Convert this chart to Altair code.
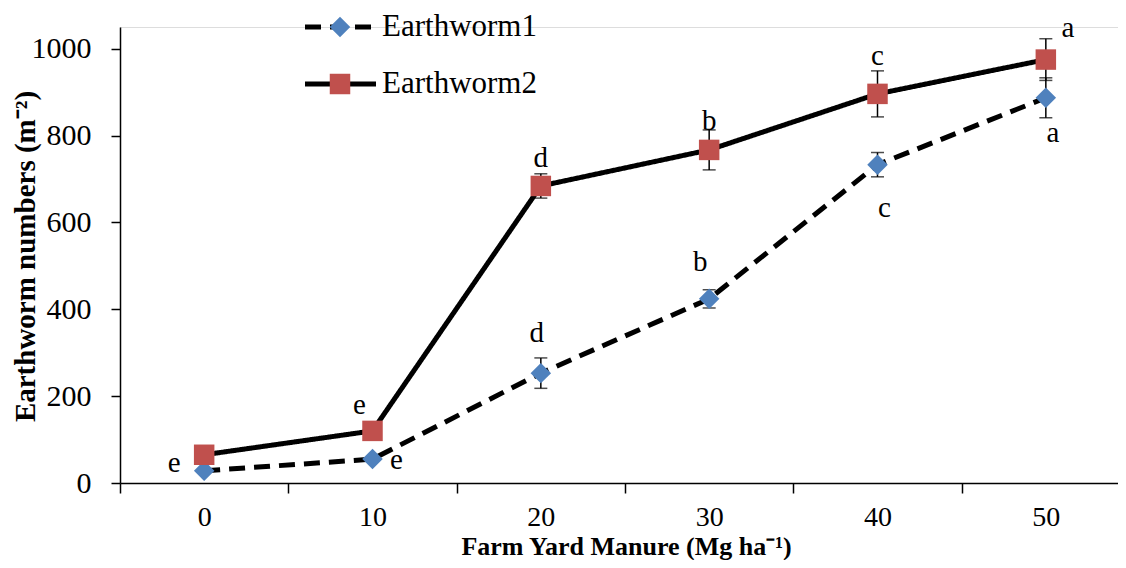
import altair as alt
import pandas as pd

fym = ["0", "10", "20", "30", "40", "50"]
series = ["Earthworm1", "Earthworm2"]
ew1 = [28, 55, 253, 424, 733, 887]
ew1_err = [5, 5, 35, 21, 28, 46]
ew2 = [65, 120, 684, 767, 896, 975]
ew2_err = [5, 5, 28, 46, 53, 48]

lab1_txt = ["e", "e", "d", "b", "c", "a"]
lab1_y = [46, 53, 345, 509, 633, 806]
lab1_dx = [-30, 24, -4, -9, 7, 7]
lab2_cat = ["10", "20", "30", "40", "50"]
lab2_txt = ["e", "d", "b", "c", "a"]
lab2_y = [180, 748, 833, 983, 1048]
lab2_dx = [-13, 0, 0, 0, 22]

FONT = "Liberation Serif"
HALF_BAND = 1010 / 12

rows = []
for s, vals, errs in [(series[0], ew1, ew1_err), (series[1], ew2, ew2_err)]:
    for c, v, e in zip(fym, vals, errs):
        rows.append({"fym": c, "series": s, "value": v, "lo": v - e, "hi": v + e})
df = pd.DataFrame(rows)

labs = pd.DataFrame(
    {"fym": fym + lab2_cat, "txt": lab1_txt + lab2_txt,
     "ly": lab1_y + lab2_y, "dx": lab1_dx + lab2_dx}
)

x = alt.X("fym:N", sort=fym, title="Farm Yard Manure (Mg ha⁻¹)",
          scale=alt.Scale(paddingInner=0, paddingOuter=0, range=[0, 1010]),
          axis=alt.Axis(labelAngle=0, tickBand="extent", tickSize=10, tickColor="black",
                        domainColor="black", domainWidth=1.5, tickWidth=1.5,
                        labelFont=FONT, labelFontSize=28, labelColor="black", labelPadding=10,
                        titleFont=FONT, titleFontSize=26, titleFontWeight="bold",
                        titleColor="black", titleX=506, titleY=71, titleBaseline="alphabetic",
                        titleAlign="center"))
y = alt.Y("value:Q", title="Earthworm numbers (m⁻²)",
          scale=alt.Scale(domain=[0, 1050], nice=False),
          axis=alt.Axis(values=[0, 200, 400, 600, 800, 1000], format="d", grid=False, tickSize=9,
                        tickColor="black", domainColor="black", domainWidth=1.5, tickWidth=1.5,
                        labelFont=FONT, labelFontSize=30, labelColor="black", labelPadding=20,
                        titleFont=FONT, titleFontSize=29, titleFontWeight="bold",
                        titleColor="black", titleX=-95, titleY=229, titleAngle=270,
                        titleBaseline="middle", titleAlign="center"))

base = alt.Chart(df)
dash = alt.StrokeDash("series:N", scale=alt.Scale(domain=series, range=[[16, 9], [1, 0]]), legend=None)

lines = base.mark_line(color="black", strokeWidth=5).encode(x=x, y=y, strokeDash=dash, detail="series:N")

err_rule = base.mark_rule(color="black", strokeWidth=1.5).encode(x="fym:N", y="lo:Q", y2="hi:Q")
cap_lo = base.mark_tick(color="black", size=13, thickness=1.5).encode(x="fym:N", y="lo:Q")
cap_hi = base.mark_tick(color="black", size=13, thickness=1.5).encode(x="fym:N", y="hi:Q")

pts = base.mark_point(filled=True, opacity=1, size=420).encode(
    x="fym:N", y="value:Q",
    shape=alt.Shape("series:N", scale=alt.Scale(domain=series, range=["diamond", "square"]), legend=None),
    color=alt.Color("series:N", scale=alt.Scale(domain=series, range=["#4F81BD", "#C0504D"]), legend=None),
)

letters = alt.Chart(labs).mark_text(font=FONT, fontSize=29, color="black", baseline="middle", align="center").encode(
    x="fym:N", y="ly:Q", text="txt:N",
    xOffset=alt.XOffset("dx:Q", scale=alt.Scale(domain=[-100, 100],
                                                  range=[HALF_BAND - 100, HALF_BAND + 100]))
)

leg = pd.DataFrame({"series": series})
legc = alt.Chart(leg)
leg_items = []
for i, s in enumerate(series):
    yy = 0 if i == 0 else 57
    f = legc.transform_filter(alt.datum.series == s)
    leg_items.append(f.mark_rule(color="black", strokeWidth=5, strokeDash=[16, 9] if i == 0 else [1, 0]).encode(
        x=alt.value(185), x2=alt.value(256), y=alt.value(yy)))
    leg_items.append(f.mark_point(filled=True, opacity=1, size=420,
                                  shape="diamond" if i == 0 else "square",
                                  color="#4F81BD" if i == 0 else "#C0504D").encode(
        x=alt.value(220), y=alt.value(yy)))
    leg_items.append(f.mark_text(font=FONT, fontSize=31, color="black", align="left", baseline="middle").encode(
        x=alt.value(262), y=alt.value(yy), text="series:N"))

chart = alt.layer(lines, err_rule, cap_lo, cap_hi, pts, letters, *leg_items).properties(
    width=998, height=456,
    autosize=alt.AutoSizeParams(type="none"),
    padding={"left": 112, "top": 19, "right": 0, "bottom": 77},
).configure_view(stroke=None).configure(background="white")

chart.save("out.html", embed_options={"renderer": "svg", "actions": False})
